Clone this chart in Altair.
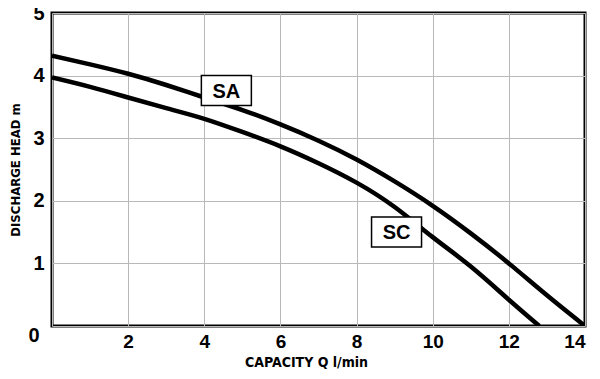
import altair as alt
import pandas as pd

# Data
sa_x = [0, 1, 2, 3, 4, 5, 6, 7, 8, 9, 10, 11, 12, 13, 14]
sa_y = [4.32, 4.18, 4.03, 3.85, 3.65, 3.45, 3.22, 2.96, 2.66, 2.31, 1.92, 1.48, 1.0, 0.49, 0.0]
sc_x = [0, 1, 2, 3, 4, 5, 6, 7, 8, 9, 10, 11, 12, 12.8]
sc_y = [3.97, 3.82, 3.65, 3.48, 3.31, 3.10, 2.87, 2.60, 2.29, 1.90, 1.42, 0.95, 0.42, 0.0]

label_names = ["SA", "SC"]
label_x = [4.58, 9.05]
label_y = [3.76, 1.50]

x_ticks = [0, 2, 4, 6, 8, 10, 12, 14]
y_ticks = [0, 1, 2, 3, 4, 5]

rows = [{"series": "SA", "q": x, "h": y} for x, y in zip(sa_x, sa_y)]
rows += [{"series": "SC", "q": x, "h": y} for x, y in zip(sc_x, sc_y)]
curves = pd.DataFrame(rows)
labels = pd.DataFrame({"name": label_names, "q": label_x, "h": label_y})
zero = pd.DataFrame({"q": [0], "h": [0], "t": ["0"]})

NUM_FONT = "Liberation Sans"
TITLE_FONT = "Liberation Sans Narrow, DejaVu Sans Condensed, sans-serif"

xscale = alt.Scale(domain=[0, 14], nice=False, zero=False)
yscale = alt.Scale(domain=[0, 5], nice=False)

x_enc = alt.X(
    "q:Q", scale=xscale,
    axis=alt.Axis(
        values=x_ticks, title="CAPACITY Q l/min", format="d",
        labelExpr="datum.value == 0 ? '' : datum.label",
        labelFont=NUM_FONT, labelFontSize=19, labelFontWeight="bold",
        labelColor="black", labelPadding=6,
        titleFont=TITLE_FONT, titleFontSize=14, titleFontWeight="bold",
        titleColor="black", titlePadding=4, titleX=254,
        domain=False, ticks=False, gridColor="#b8b8b8", gridWidth=1,
    ),
)
y_enc = alt.Y(
    "h:Q", scale=yscale,
    axis=alt.Axis(
        values=y_ticks, title="DISCHARGE HEAD m", format="d",
        labelExpr="datum.value == 0 ? '' : datum.label",
        labelFont=NUM_FONT, labelFontSize=20, labelFontWeight="bold",
        labelColor="black", labelPadding=8,
        titleFont=TITLE_FONT, titleFontSize=13, titleFontWeight="bold",
        titleColor="black", titlePadding=10,
        domain=False, ticks=False, gridColor="#b8b8b8", gridWidth=1,
    ),
)

lines = alt.Chart(curves).mark_line(
    color="black", strokeWidth=4.5, interpolate="natural", clip=True
).encode(x=x_enc, y=y_enc, detail="series:N")

boxes = alt.Chart(labels).mark_point(
    shape="M-1,-0.6H1V0.6H-1Z", size=2500, filled=True,
    fill="white", stroke="black", strokeWidth=1.5, opacity=1
).encode(x=alt.X("q:Q", scale=xscale), y=alt.Y("h:Q", scale=yscale))

texts = alt.Chart(labels).mark_text(
    font=NUM_FONT, fontSize=20, fontWeight="bold", color="black", dy=1
).encode(x=alt.X("q:Q", scale=xscale), y=alt.Y("h:Q", scale=yscale), text="name:N")

zero_lbl = alt.Chart(zero).mark_text(
    font=NUM_FONT, fontSize=20, fontWeight="bold", color="black",
    dx=-18, dy=10
).encode(x=alt.X("q:Q", scale=xscale), y=alt.Y("h:Q", scale=yscale), text="t:N")

chart = alt.layer(lines, boxes, texts, zero_lbl).properties(
    width=533, height=313,
    autosize=alt.AutoSizeParams(type="none"),
    padding={"left": 44, "top": 5, "right": 7, "bottom": 45},
).configure(
    background="white",
    view=alt.ViewConfig(stroke="black", strokeWidth=3),
)

chart.save("out.html", embed_options={"renderer": "svg", "actions": False})
